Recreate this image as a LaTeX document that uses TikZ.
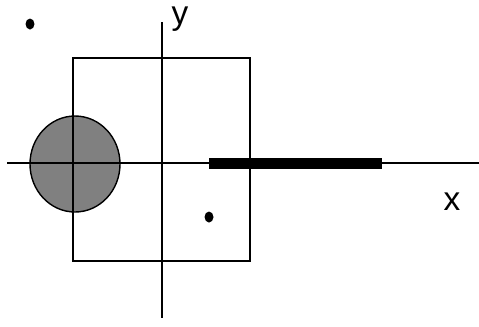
\documentclass[tikz,border=0pt]{standalone}
\usepackage{fontspec}
\setmainfont{Liberation Sans}
\begin{document}
\begin{tikzpicture}[x=0.02cm, y=-0.02cm, line width=0.8pt, font=\fontsize{19}{21}\selectfont]
\useasboundingbox (0,0) rectangle (479,326);

% Disque
\draw[fill=black!50] (75,164) ellipse [x radius=45, y radius=48];

% Rectangle
\draw (73,58) rectangle (250,261);

% Axes
\draw (7,163) -- (479,163);
\draw (162,22) -- (162,318);
\node[anchor=base] (ylab) at (180,24) {y};
\node[anchor=base] (xlab) at (452,210) {x};

% Barre
\draw[line width=6.2pt] (209,163.5) -- (382,163.5);

% Points
\fill (30,24) ellipse [x radius=4.5, y radius=5.5];
\fill (209,217) ellipse [x radius=4.5, y radius=5.5];

\end{tikzpicture}
\end{document}
